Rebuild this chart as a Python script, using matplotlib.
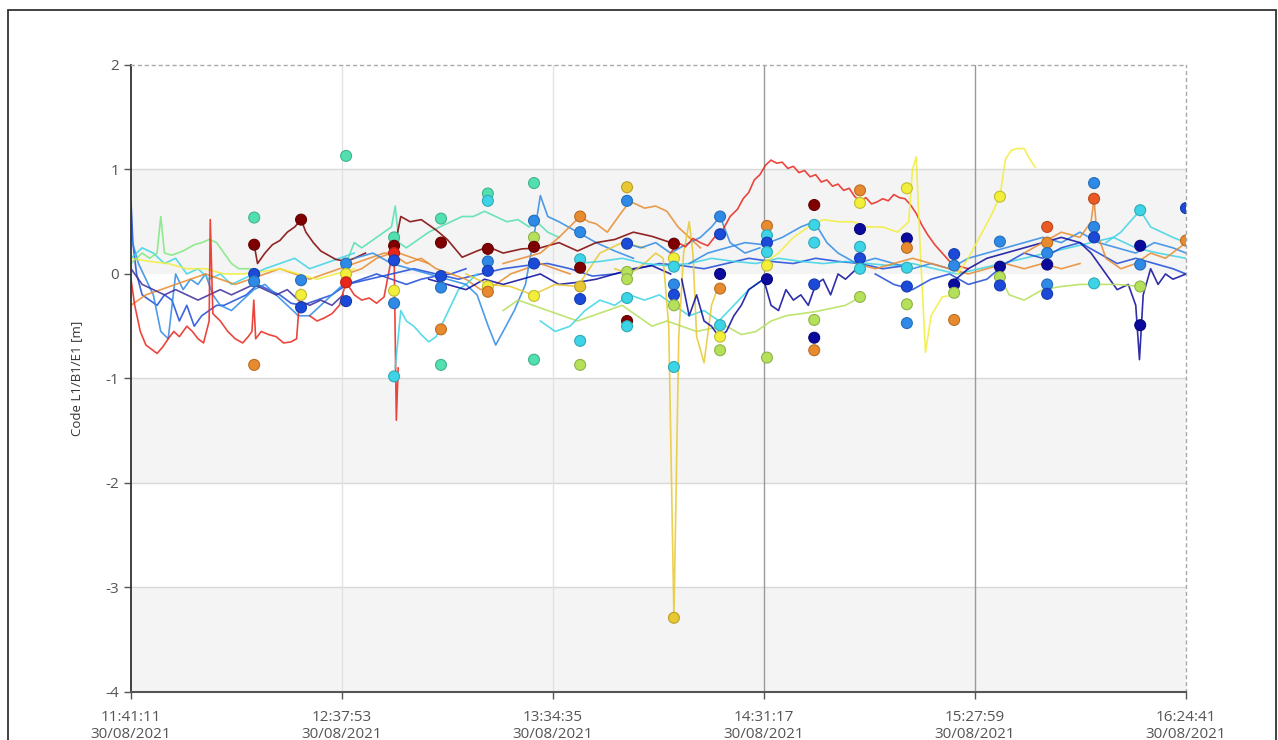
import datetime as dt
import matplotlib
matplotlib.use("Agg")
import matplotlib.pyplot as plt
from matplotlib.patches import Rectangle
from matplotlib.ticker import FixedLocator, FuncFormatter
import matplotlib.colors as mcolors

plt.rcParams['font.family'] = ['Open Sans', 'DejaVu Sans']
plt.rcParams['axes.unicode_minus'] = False

# Time axis: minutes after 30/08/2021 11:41:11
START = dt.datetime(2021, 8, 30, 11, 41, 11)
tick_minutes = [0, 56.7, 113.4, 170.1, 226.8, 283.5]
y_ticks = [2, 1, 0, -1, -2, -3, -4]
shaded_bands = [(0, 1), (-2, -1), (-4, -3)]

# jet-like palette used by the satellites
palette = {
    'dr': '#7f0000', 'r': '#e8261c', 'or': '#ea5a24', 'o': '#e88a2e',
    'g': '#e8c832', 'y': '#f2ee3a', 'yg': '#b4e05a', 'lg': '#7ee87e',
    'aq': '#52e0b0', 'c': '#3cd4e6', 'db': '#2e8ae6', 'b': '#1c4ad8',
    'n': '#0a0a9c', 'p': '#3a2c9a',
}

# ---- residual arcs (minutes, metres) ----
red_low_t = [0, 1, 2.5, 4, 5.5, 7, 8.5, 10, 11.5, 13, 15, 16.5, 18, 19.5, 21, 21.3, 22, 24, 26, 28, 30,
             31.5, 32.5, 33, 33.5, 35, 37, 39, 41, 43, 44.5, 45.5]
red_low_v = [-0.05, -0.3, -0.55, -0.68, -0.72, -0.76, -0.7, -0.62, -0.55, -0.6, -0.5, -0.55, -0.62, -0.66,
             -0.45, 0.52, -0.38, -0.45, -0.55, -0.62, -0.66, -0.6, -0.55, -0.25, -0.62, -0.55, -0.58, -0.6,
             -0.66, -0.65, -0.62, -0.15]

red_spike_t = [48, 50, 52, 54, 56, 57.8, 60, 62, 64, 66, 68, 70, 70.7, 71.3, 71.8]
red_spike_v = [-0.4, -0.45, -0.42, -0.38, -0.3, -0.08, -0.2, -0.25, -0.23, -0.28, -0.22, 0.15, 0.2, -1.4, -0.9]

maroon_a_t = [33.1, 34, 36, 38, 40, 42, 44, 45.7, 47, 49, 51, 53, 55, 57.8, 60, 63]
maroon_a_v = [0.28, 0.1, 0.2, 0.28, 0.32, 0.4, 0.45, 0.52, 0.4, 0.3, 0.22, 0.18, 0.14, 0.12, 0.15, 0.2]

maroon_b_t = [70.7, 72.5, 75, 78, 82, 85, 89, 93, 96, 100, 105, 110, 115, 120, 125, 130, 135, 140, 145.9]
maroon_b_v = [0.23, 0.55, 0.5, 0.52, 0.42, 0.33, 0.16, 0.22, 0.26, 0.2, 0.24, 0.25, 0.3, 0.22, 0.3, 0.33,
              0.4, 0.36, 0.29]

lightgreen_t = [0, 3, 5, 7, 8, 9, 11, 14, 17, 19, 21, 23, 25, 27, 29, 31, 33]
lightgreen_v = [0.1, 0.2, 0.15, 0.2, 0.55, 0.2, 0.18, 0.22, 0.28, 0.3, 0.33, 0.3, 0.2, 0.1, 0.05, 0.05, 0.05]

aqua_t = [57.8, 60, 62, 64, 66, 68, 70, 71, 72, 74, 76, 78, 80, 83, 86, 89, 92, 95, 98, 101, 104, 107,
          109, 112, 115]
aqua_v = [0.1, 0.3, 0.25, 0.3, 0.35, 0.4, 0.45, 0.65, 0.3, 0.25, 0.3, 0.35, 0.4, 0.45, 0.5, 0.55, 0.55,
          0.6, 0.55, 0.5, 0.52, 0.45, 0.5, 0.4, 0.35]

cyan_dip_t = [71, 72.5, 74, 76, 78, 80, 82, 84, 86, 88, 90, 93]
cyan_dip_v = [-0.9, -0.35, -0.45, -0.5, -0.58, -0.65, -0.6, -0.45, -0.3, -0.15, -0.1, 0.0]

dodger_mid_t = [60, 65, 70, 75, 80, 85, 90, 93, 96, 98, 100, 103, 106, 108, 110, 112, 115, 120, 125, 130, 135]
dodger_mid_v = [0.15, 0.2, 0.1, 0.05, 0.0, -0.05, -0.1, -0.2, -0.5, -0.68, -0.55, -0.35, -0.1, 0.3, 0.75,
                0.55, 0.5, 0.4, 0.3, 0.22, 0.15]

yellowgreen_t = [100, 104, 108, 112, 116, 120, 124, 128, 132, 136, 140, 144, 148, 152, 156, 160, 164, 168,
                 172, 176, 180, 184, 188, 192, 196]
yellowgreen_v = [-0.35, -0.25, -0.3, -0.35, -0.4, -0.45, -0.4, -0.35, -0.3, -0.4, -0.5, -0.45, -0.5, -0.55,
                 -0.52, -0.5, -0.58, -0.55, -0.45, -0.4, -0.38, -0.36, -0.33, -0.3, -0.22]

cyan_low_t = [110, 114, 118, 122, 126, 130, 134, 138, 142, 146, 150, 154, 158, 162, 166, 170]
cyan_low_v = [-0.45, -0.55, -0.5, -0.35, -0.25, -0.3, -0.2, -0.25, -0.2, -0.3, -0.4, -0.35, -0.45, -0.3,
              -0.15, -0.05]

navy_mid_t = [148, 150, 152, 154, 156, 158, 160, 162, 164, 166, 168, 170, 172, 174, 176, 178, 180, 182, 184,
              186, 188, 190, 192, 195]
navy_mid_v = [-0.05, -0.4, -0.2, -0.45, -0.5, -0.6, -0.55, -0.4, -0.3, -0.15, -0.1, -0.05, -0.3, -0.35,
              -0.15, -0.25, -0.2, -0.3, -0.1, -0.05, -0.2, 0.0, -0.05, 0.05]

gold_t = [130, 134, 138, 141, 143, 144.5, 145.9, 147.2, 148.5, 150, 151, 152, 154, 156, 158]
gold_v = [0.05, 0.0, 0.1, 0.2, 0.15, -0.5, -3.29, -0.6, 0.2, 0.5, 0.2, -0.6, -0.85, -0.3, -0.1]

orange_mid_t = [100, 105, 110, 115, 120.7, 123, 125, 128, 131, 133.3, 135, 138, 141, 144, 147, 150, 153]
orange_mid_v = [0.1, 0.15, 0.2, 0.35, 0.55, 0.5, 0.48, 0.4, 0.55, 0.66, 0.68, 0.63, 0.65, 0.6, 0.45, 0.35, 0.25]

orange_b_t = [57.8, 62, 66, 70, 74, 78, 82, 86, 90, 94, 98, 102, 106, 110, 114, 118]
orange_b_v = [0.0, 0.05, 0.15, 0.2, 0.1, 0.15, 0.05, 0.0, -0.05, -0.15, -0.1, 0.0, 0.05, 0.1, 0.05, 0.0]

blue_up_t = [133.3, 137, 141, 145, 149, 153, 156, 158.3, 161, 165, 169]
blue_up_v = [0.29, 0.25, 0.3, 0.2, 0.28, 0.35, 0.45, 0.55, 0.3, 0.2, 0.25]

red_arc_t = [145, 147, 149, 151, 153, 155, 157, 159, 161, 163, 164.5, 166, 167.5, 169, 170.5, 172, 173.5,
             175, 176.5, 178, 179.5, 181, 182.5, 184, 185.5, 187, 188.5, 190, 191.5, 193, 194.5, 196, 197.5,
             199, 200.5, 202, 203.5, 205, 206.5, 208, 209.5, 211, 212.5, 214, 216, 218, 220, 222, 225]
red_arc_v = [0.2, 0.3, 0.26, 0.34, 0.3, 0.27, 0.36, 0.42, 0.55, 0.62, 0.72, 0.78, 0.9, 0.95, 1.04, 1.09,
             1.06, 1.07, 1.01, 1.03, 0.97, 0.99, 0.93, 0.95, 0.88, 0.9, 0.84, 0.86, 0.8, 0.82, 0.74, 0.7,
             0.73, 0.67, 0.69, 0.72, 0.7, 0.76, 0.73, 0.72, 0.66, 0.58, 0.47, 0.38, 0.28, 0.2, 0.12, 0.08, 0.05]

yellow_a_t = [170, 174, 178, 182, 186, 190, 194, 198, 202, 206, 209, 210, 211, 212, 213.5, 215, 218, 221]
yellow_a_v = [0.1, 0.2, 0.35, 0.45, 0.52, 0.5, 0.5, 0.45, 0.45, 0.4, 0.5, 1.0, 1.12, 0.3, -0.75, -0.4,
              -0.22, -0.2]

yellow_b_t = [222, 225, 228, 231, 233.5, 235, 236.5, 238, 240, 241.5, 243]
yellow_b_v = [0.0, 0.15, 0.35, 0.55, 0.74, 1.1, 1.18, 1.2, 1.2, 1.1, 1.02]

navy_right_t = [220, 225, 230, 235, 240, 245, 250, 255, 258, 262, 265, 268, 270, 271, 272, 274, 276, 278,
                280, 283.5]
navy_right_v = [-0.1, 0.05, 0.15, 0.2, 0.25, 0.3, 0.35, 0.3, 0.2, 0.0, -0.15, -0.1, -0.3, -0.82, -0.2,
                0.05, -0.1, 0.0, -0.05, 0.0]

orange_right_t = [240, 245, 250, 255, 258, 258.8, 259.5, 262, 266, 270, 274, 278, 283.5]
orange_right_v = [0.2, 0.3, 0.4, 0.35, 0.5, 0.72, 0.4, 0.15, 0.05, 0.1, 0.2, 0.15, 0.3]

cyan_right_t = [262, 266, 271.2, 274, 277, 280, 283.5]
cyan_right_v = [0.3, 0.4, 0.61, 0.45, 0.4, 0.35, 0.3]

yellowgreen_right_t = [233.5, 236, 240, 245, 250, 255, 260, 265, 271.2]
yellowgreen_right_v = [-0.03, -0.2, -0.25, -0.15, -0.12, -0.1, -0.1, -0.1, -0.12]

blue_left_t = [0, 0.5, 1.5, 3, 5, 7, 9, 11, 13, 15, 17, 19, 21, 23, 25, 28, 31, 34, 37, 40, 43, 46, 50, 54,
               58, 62, 66, 70, 74, 78, 82, 86, 90]
blue_left_v = [0.7, 0.3, 0.0, -0.2, -0.25, -0.3, -0.2, -0.25, -0.45, -0.3, -0.5, -0.4, -0.35, -0.3, -0.3,
               -0.25, -0.2, -0.1, -0.15, -0.2, -0.28, -0.3, -0.25, -0.2, -0.1, -0.05, 0.0, -0.05, -0.1,
               -0.05, -0.02, 0.0, 0.05]

dodger_left_t = [0, 2, 4, 6, 8, 10, 12, 14, 16, 18, 20, 22, 24, 27, 30, 33, 36, 39, 42, 45, 48, 51, 54, 57]
dodger_left_v = [0.35, 0.1, -0.05, -0.2, -0.55, -0.62, 0.0, -0.15, -0.05, -0.1, 0.0, -0.2, -0.3, -0.35,
                 -0.25, -0.15, -0.1, -0.2, -0.3, -0.4, -0.4, -0.3, -0.2, -0.1]

cyan_left_t = [0, 3, 6, 9, 12, 15, 18, 21, 24, 27, 30, 33, 36, 40, 44, 48, 52, 56, 60]
cyan_left_v = [0.15, 0.25, 0.2, 0.1, 0.15, 0.0, 0.05, -0.05, 0.0, -0.1, -0.05, 0.0, 0.05, 0.1, 0.15, 0.05,
               0.1, 0.15, 0.2]

orange_left_t = [0, 4, 8, 12, 16, 20, 24, 28, 32, 36, 40, 44, 48, 52, 56, 60, 64, 68, 72, 76, 80]
orange_left_v = [-0.3, -0.2, -0.15, -0.1, -0.05, 0.0, -0.05, -0.1, -0.05, 0.0, 0.05, 0.0, -0.05, 0.0, 0.05,
                 0.1, 0.15, 0.2, 0.2, 0.15, 0.1]

yellow_left_t = [0, 5, 10, 15, 20, 25, 30, 35, 40, 45, 50, 55, 60]
yellow_left_v = [0.15, 0.12, 0.1, 0.05, 0.05, 0.0, 0.0, 0.02, 0.05, 0.0, -0.05, 0.0, 0.05]

purple_left_t = [0, 3, 6, 9, 12, 15, 18, 21, 24, 27, 30, 33, 36, 39, 42, 45, 48, 51, 54, 57]
purple_left_v = [0.05, -0.1, -0.15, -0.2, -0.15, -0.2, -0.25, -0.2, -0.15, -0.2, -0.15, -0.1, -0.15, -0.2,
                 -0.15, -0.25, -0.3, -0.25, -0.3, -0.2]

blue_mid_t = [58, 64, 70, 76, 82, 88, 94, 100, 106, 112, 118, 124, 130, 136, 142, 148, 154, 160, 166, 172,
              178, 184, 190, 196, 202, 208]
blue_mid_v = [-0.1, -0.05, 0.0, 0.05, 0.0, -0.05, 0.0, 0.05, 0.08, 0.1, 0.05, -0.02, 0.0, 0.05, 0.1, 0.08,
              0.05, 0.1, 0.15, 0.12, 0.1, 0.15, 0.12, 0.1, 0.05, 0.08]

dodger_right_t = [150, 155, 160, 165, 170, 175, 180, 183.6, 187, 190, 195, 200, 205, 210, 215, 220, 225, 230,
                  235, 240, 245, 250, 255, 260, 265, 270, 275, 280, 283.5]
dodger_right_v = [0.1, 0.2, 0.25, 0.3, 0.28, 0.35, 0.45, 0.5, 0.3, 0.2, 0.1, 0.15, 0.1, 0.05, 0.1, 0.05,
                  0.15, 0.2, 0.25, 0.3, 0.35, 0.3, 0.4, 0.3, 0.25, 0.2, 0.3, 0.25, 0.2]

cyan_long_t = [120, 126, 132, 138, 144, 150, 156, 162, 168, 174, 180, 186, 192, 198, 204, 210, 216, 222,
               228, 234, 240, 246, 252, 258, 264, 270, 276, 283.5]
cyan_long_v = [0.1, 0.12, 0.15, 0.1, 0.08, 0.1, 0.15, 0.12, 0.1, 0.15, 0.12, 0.1, 0.12, 0.1, 0.08, 0.1,
               0.05, 0.0, 0.05, 0.1, 0.15, 0.2, 0.25, 0.3, 0.35, 0.25, 0.2, 0.15]

orange_late_t = [195, 200, 205, 210, 215, 220, 225, 230, 235, 240, 245, 250, 255]
orange_late_v = [0.1, 0.05, 0.1, 0.15, 0.1, 0.05, 0.0, 0.05, 0.1, 0.05, 0.1, 0.05, 0.1]

blue_right_t = [200, 205, 210, 215, 220, 225, 230, 235, 240, 245, 250, 255, 260, 265, 270, 275, 280, 283.5]
blue_right_v = [0.0, -0.1, -0.15, -0.05, 0.0, -0.1, -0.05, 0.1, 0.2, 0.15, 0.25, 0.3, 0.2, 0.1, 0.15, 0.1,
                0.05, 0.0]

navy_early_t = [80, 85, 90, 95, 100, 105, 110, 115, 120, 125, 130, 135, 140, 145]
navy_early_v = [-0.05, -0.1, -0.15, -0.05, -0.1, -0.05, 0.0, -0.1, -0.08, -0.05, 0.0, 0.05, 0.08, 0.0]

gold_mid_t = [90, 96, 102, 108, 114, 120, 126, 132, 138]
gold_mid_v = [0.0, -0.1, -0.12, -0.2, -0.1, -0.12, 0.2, 0.3, 0.25]

# ---- arc boundary dots ----
dot_times = [33.1, 45.7, 57.8, 70.7, 83.3, 95.9, 108.3, 120.7, 133.3, 145.9, 158.3, 170.9, 183.6, 195.9,
             208.5, 221.2, 233.5, 246.2, 258.8, 271.2, 283.5]
dot_values = [
    [0.54, 0.28, 0.0, -0.07, -0.87],
    [0.52, -0.06, -0.2, -0.32],
    [1.13, 0.1, 0.0, -0.08, -0.26],
    [0.35, 0.27, 0.2, 0.13, -0.16, -0.28, -0.98],
    [0.53, 0.3, -0.02, -0.13, -0.53, -0.87],
    [0.77, 0.7, 0.24, 0.12, 0.03, -0.12, -0.17],
    [0.87, 0.51, 0.35, 0.26, 0.1, -0.21, -0.82],
    [0.55, 0.4, 0.14, 0.06, -0.12, -0.24, -0.64, -0.87],
    [0.83, 0.7, 0.29, 0.02, -0.05, -0.23, -0.45, -0.5],
    [0.29, 0.15, 0.07, -0.1, -0.2, -0.3, -0.89, -3.29],
    [0.55, 0.38, 0.0, -0.14, -0.49, -0.6, -0.73],
    [0.46, 0.37, 0.3, 0.21, 0.08, -0.05, -0.8],
    [0.66, 0.47, 0.3, -0.1, -0.44, -0.61, -0.73],
    [0.8, 0.68, 0.43, 0.26, 0.15, 0.05, -0.22],
    [0.82, 0.34, 0.25, 0.06, -0.12, -0.29, -0.47],
    [0.19, 0.08, -0.1, -0.18, -0.44],
    [0.74, 0.31, 0.07, -0.03, -0.11],
    [0.45, 0.3, 0.2, 0.09, -0.1, -0.19],
    [0.87, 0.72, 0.45, 0.35, -0.09],
    [0.61, 0.27, 0.09, -0.12, -0.49],
    [0.63, 0.32],
]
dot_colors = [
    ['aq', 'dr', 'b', 'db', 'o'],
    ['dr', 'db', 'y', 'b'],
    ['aq', 'db', 'y', 'r', 'b'],
    ['aq', 'dr', 'r', 'b', 'y', 'db', 'c'],
    ['aq', 'dr', 'b', 'db', 'o', 'aq'],
    ['aq', 'c', 'dr', 'db', 'b', 'y', 'o'],
    ['aq', 'db', 'yg', 'dr', 'b', 'y', 'aq'],
    ['o', 'db', 'c', 'dr', 'g', 'b', 'c', 'yg'],
    ['g', 'db', 'b', 'yg', 'yg', 'c', 'dr', 'c'],
    ['dr', 'y', 'c', 'db', 'b', 'yg', 'c', 'g'],
    ['db', 'b', 'n', 'o', 'c', 'y', 'yg'],
    ['o', 'c', 'b', 'c', 'y', 'n', 'yg'],
    ['dr', 'c', 'c', 'b', 'yg', 'n', 'o'],
    ['o', 'y', 'n', 'c', 'b', 'c', 'yg'],
    ['y', 'n', 'o', 'c', 'b', 'yg', 'db'],
    ['b', 'db', 'n', 'yg', 'o'],
    ['y', 'db', 'n', 'yg', 'b'],
    ['or', 'o', 'db', 'n', 'db', 'b'],
    ['db', 'or', 'db', 'b', 'c'],
    ['c', 'n', 'db', 'yg', 'n'],
    ['b', 'o'],
]

series = [
    (blue_left_t, blue_left_v, 'b'), (dodger_left_t, dodger_left_v, 'db'),
    (cyan_left_t, cyan_left_v, 'c'), (orange_left_t, orange_left_v, 'o'),
    (yellow_left_t, yellow_left_v, 'y'), (purple_left_t, purple_left_v, 'p'),
    (lightgreen_t, lightgreen_v, 'lg'), (red_low_t, red_low_v, 'r'),
    (maroon_a_t, maroon_a_v, 'dr'), (red_spike_t, red_spike_v, 'r'),
    (blue_mid_t, blue_mid_v, 'b'), (orange_b_t, orange_b_v, 'o'),
    (aqua_t, aqua_v, 'aq'),
    (cyan_dip_t, cyan_dip_v, 'c'), (dodger_mid_t, dodger_mid_v, 'db'),
    (maroon_b_t, maroon_b_v, 'dr'), (navy_early_t, navy_early_v, 'n'),
    (gold_mid_t, gold_mid_v, 'g'), (yellowgreen_t, yellowgreen_v, 'yg'),
    (cyan_low_t, cyan_low_v, 'c'), (orange_mid_t, orange_mid_v, 'o'),
    (blue_up_t, blue_up_v, 'db'),
    (gold_t, gold_v, 'g'), (cyan_long_t, cyan_long_v, 'c'),
    (navy_mid_t, navy_mid_v, 'n'), (red_arc_t, red_arc_v, 'r'),
    (yellow_a_t, yellow_a_v, 'y'), (dodger_right_t, dodger_right_v, 'db'),
    (orange_late_t, orange_late_v, 'o'), (blue_right_t, blue_right_v, 'b'),
    (yellow_b_t, yellow_b_v, 'y'), (navy_right_t, navy_right_v, 'n'),
    (orange_right_t, orange_right_v, 'o'), (cyan_right_t, cyan_right_v, 'c'),
    (yellowgreen_right_t, yellowgreen_right_v, 'yg'),
]


def darker(hex_color, f=0.8):
    r, g, b = mcolors.to_rgb(hex_color)
    return (r * f, g * f, b * f)


fig = plt.figure(figsize=(12.78, 7.40), dpi=100)
ax = fig.add_axes([0.1025, 0.0649, 0.8255, 0.8473])

# outer frame of the panel
fig.add_artist(Rectangle((8 / 1278, -0.1), 1268 / 1278, 1.1 - 10 / 740, transform=fig.transFigure,
                         fill=False, edgecolor='#333333', linewidth=1.3))

for lo, hi in shaded_bands:
    ax.axhspan(lo, hi, color='#f4f4f4', zorder=0, linewidth=0)
for yv in [1, -1, -2, -3]:
    ax.axhline(yv, color='#d8d8d8', linewidth=1.0, zorder=0.5)
for i, tm in enumerate(tick_minutes[1:-1]):
    col = '#9a9a9a' if i >= 2 else '#e2e2e2'
    ax.axvline(tm, color=col, linewidth=1.0, zorder=0.5)

for t, v, c in series:
    ax.plot(t, v, color=palette[c], linewidth=1.2, alpha=0.85, zorder=2)

for tm, vals, cols in zip(dot_times, dot_values, dot_colors):
    ax.scatter([tm] * len(vals), vals, s=62, c=[palette[k] for k in cols],
               edgecolors=[darker(palette[k]) for k in cols], linewidths=0.8, zorder=3)

ax.set_xlim(0, 283.5)
ax.set_ylim(-4, 2)
ax.xaxis.set_major_locator(FixedLocator(tick_minutes))
ax.xaxis.set_major_formatter(FuncFormatter(
    lambda x, pos: (START + dt.timedelta(minutes=x)).strftime("%H:%M:%S\n%d/%m/%Y")))
ax.set_yticks(y_ticks)
ax.tick_params(axis='both', colors='#555555', labelsize=11, length=5, width=1.0, direction='out')
ax.tick_params(axis='x', pad=8)
ax.set_ylabel("Code L1/B1/E1 [m]", fontsize=9.5, color='#333333', labelpad=16)

ax.spines['left'].set_color('#333333')
ax.spines['left'].set_linewidth(1.3)
ax.spines['bottom'].set_color('#555555')
ax.spines['bottom'].set_linewidth(1.5)
for side in ['top', 'right']:
    ax.spines[side].set_color('#aaaaaa')
    ax.spines[side].set_linestyle((0, (2, 3)))
    ax.spines[side].set_linewidth(1.0)

fig.savefig("out.png", dpi=100)
